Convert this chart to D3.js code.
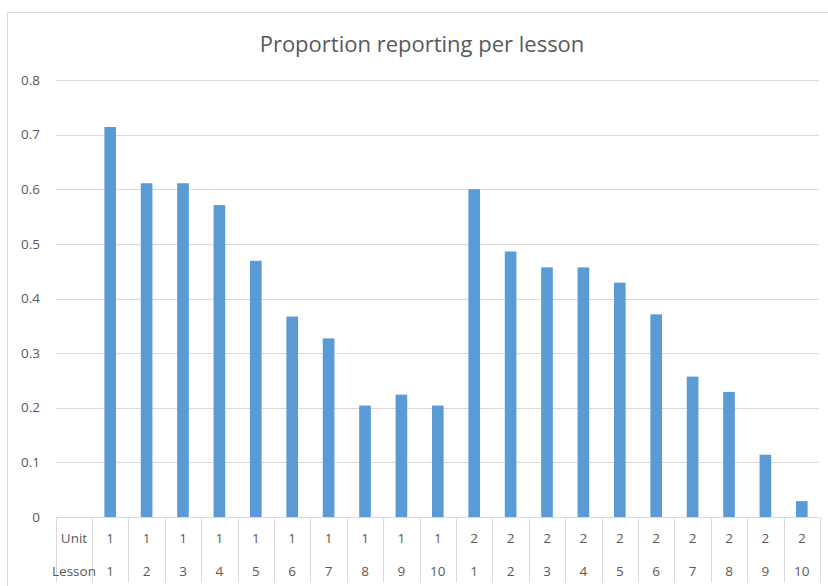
<!DOCTYPE html>
<meta charset="utf-8">
<style>
body { margin: 0; background: #fff; font-family: "Open Sans", "Noto Sans", sans-serif; }
.grid line { stroke: #d9d9d9; stroke-width: 1px; shape-rendering: crispEdges; }
.bar { fill: #5b9bd5; }
.tick-label, .cell { fill: #595959; font-size: 13.5px; }
.title { fill: #595959; font-size: 22px; }
.table line { stroke: #d9d9d9; stroke-width: 1px; shape-rendering: crispEdges; }
</style>
<body>
<div id="chart"></div>
<script src="https://cdn.jsdelivr.net/npm/d3@7"></script>
<script>
// values
var units   = [1,1,1,1,1,1,1,1,1,1, 2,2,2,2,2,2,2,2,2,2];
var lessons = [1,2,3,4,5,6,7,8,9,10, 1,2,3,4,5,6,7,8,9,10];
var proportion = [0.714,0.611,0.611,0.571,0.469,0.367,0.327,0.204,0.224,0.204,
                  0.600,0.486,0.457,0.457,0.429,0.371,0.257,0.229,0.114,0.029];
var yTicks = [0,0.1,0.2,0.3,0.4,0.5,0.6,0.7,0.8];

var W = 828, H = 586;
var plotLeft = 56, catLeft = 92, plotRight = 820, plotTop = 80, base = 517;

var svg = d3.select("#chart").append("svg")
    .attr("width", W)
    .attr("height", H);

// chart frame (right/bottom edges fall outside the picture)
svg.append("rect")
    .attr("x", 7.5).attr("y", 12.5)
    .attr("width", 840).attr("height", 600)
    .attr("fill", "none")
    .attr("stroke", "#d9d9d9");

var x = d3.scaleBand()
    .domain(d3.range(proportion.length))
    .range([catLeft, plotRight])
    .paddingInner(0.68)
    .paddingOuter(0.34);

var y = d3.scaleLinear()
    .domain([0, 0.8])
    .range([base, plotTop]);

var grid = svg.append("g").attr("class", "grid");
grid.selectAll("line")
    .data(yTicks)
  .enter().append("line")
    .attr("x1", plotLeft)
    .attr("x2", 819)
    .attr("y1", function(d) { return Math.round(y(d)) + 0.5; })
    .attr("y2", function(d) { return Math.round(y(d)) + 0.5; });

svg.append("g").selectAll("text")
    .data(yTicks)
  .enter().append("text")
    .attr("class", "tick-label")
    .attr("x", 40)
    .attr("y", function(d) { return y(d); })
    .attr("dy", "0.35em")
    .attr("text-anchor", "end")
    .text(function(d) { return d === 0 ? "0" : d3.format(".1f")(d); });

svg.append("g").selectAll("rect")
    .data(proportion)
  .enter().append("rect")
    .attr("class", "bar")
    .attr("x", function(d, i) { return x(i); })
    .attr("width", x.bandwidth())
    .attr("y", function(d) { return y(d); })
    .attr("height", function(d) { return base - y(d); });

// category table under the axis
var step = x.step();
var bounds = [plotLeft].concat(d3.range(proportion.length + 1).map(function(i) { return catLeft + i * step; }));
var table = svg.append("g").attr("class", "table");
table.selectAll("line")
    .data(bounds)
  .enter().append("line")
    .attr("x1", function(d) { return Math.round(d) + 0.5; })
    .attr("x2", function(d) { return Math.round(d) + 0.5; })
    .attr("y1", base)
    .attr("y2", 582);

var rows = [{label: "Unit", vals: units, yy: 538}, {label: "Lesson", vals: lessons, yy: 571}];
rows.forEach(function(r) {
  svg.append("text")
      .attr("class", "cell")
      .attr("x", (plotLeft + catLeft) / 2)
      .attr("y", r.yy)
      .attr("dy", "0.35em")
      .attr("text-anchor", "middle")
      .text(r.label);
  svg.append("g").selectAll("text")
      .data(r.vals)
    .enter().append("text")
      .attr("class", "cell")
      .attr("x", function(d, i) { return x(i) + x.bandwidth() / 2; })
      .attr("y", r.yy)
      .attr("dy", "0.35em")
      .attr("text-anchor", "middle")
      .text(function(d) { return d; });
});

svg.append("text")
    .attr("class", "title")
    .attr("x", 422)
    .attr("y", 44)
    .attr("dy", "0.35em")
    .attr("text-anchor", "middle")
    .text("Proportion reporting per lesson");
</script>
</body>
